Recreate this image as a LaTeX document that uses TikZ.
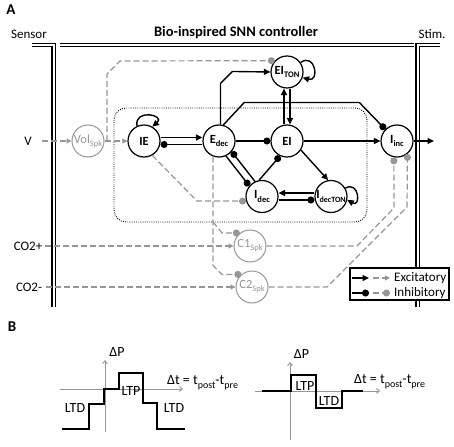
\documentclass[tikz,border=0pt]{standalone}
\usepackage{fontspec}
\setmainfont{Carlito}
\usetikzlibrary{arrows.meta}

\definecolor{spkgray}{RGB}{150,150,150}
\newcommand\nsub[2][8.5]{\raisebox{-0.25em}{\fontsize{#1}{#1}\selectfont #2}}

\tikzset{
  neuron/.style={circle,draw,fill=white,line width=1.2pt,minimum size=32pt,inner sep=0pt,font=\fontsize{12.5}{12.5}\selectfont\bfseries},
  spk/.style={circle,draw=spkgray,fill=white,text=spkgray,line width=1pt,minimum size=32pt,inner sep=0pt,font=\fontsize{12.5}{12.5}\selectfont},
  exc/.style={line width=1.4pt,-{Triangle[length=6.5pt,width=6pt]}},
  inh/.style={line width=1.4pt,-{Circle[length=7pt]}},
  gexc/.style={spkgray,line width=1.2pt,dash pattern=on 6pt off 3pt,-{Triangle[length=5pt,width=5pt]}},
  ginh/.style={spkgray,line width=1.2pt,dash pattern=on 6pt off 3pt,-{Circle[length=7pt]}},
  rail/.style={double,double distance=2pt,line width=1.1pt},
  lbl/.style={font=\fontsize{13}{15}\selectfont,inner sep=1pt},
  plbl/.style={font=\fontsize{14}{16}\selectfont,inner sep=1pt},
  axis/.style={spkgray,line width=0.9pt,-{Straight Barb[length=3pt,width=5pt]}},
  curve/.style={line width=1.8pt},
}

\begin{document}
\begin{tikzpicture}[x=1pt,y=1pt]
\useasboundingbox (0,0) rectangle (454,-446);

\node[font=\fontsize{15}{15}\selectfont\bfseries] (A) at (11,-10) {A};
\node[font=\fontsize{15}{15}\selectfont\bfseries] (B) at (12,-327) {B};
\node[font=\fontsize{14.5}{16}\selectfont\bfseries] (title) at (236,-33) {Bio-inspired SNN controller};
\node[lbl] (sensor) at (29,-34) {Sensor};
\node[lbl] (stim) at (432,-34) {Stim.};

\draw[rail] (32,-45) -- (53.5,-45) -- (53.5,-307);
\draw[rail] (60,-45) -- (414,-45);
\draw[rail] (440,-45) -- (417.5,-45) -- (417.5,-307);

\draw[line width=0.9pt,dash pattern=on 0.9pt off 1.3pt,rounded corners=12pt] (114,-108) rectangle (367,-222);

\node[lbl] (V) at (28,-141) {V};
\node[lbl] (co2p) at (28,-246) {CO2+};
\node[lbl] (co2m) at (29,-287) {CO2-};

\node[spk] (Vol) at (88,-141) {Vol\nsub{Spk}};
\node[spk] (C1) at (250,-246) {C1\nsub{Spk}};
\node[spk] (C2) at (252,-287) {C2\nsub{Spk}};

\node[neuron] (IE) at (144,-141) {IE};
\node[neuron] (Edec) at (219,-141) {E\nsub{dec}};
\node[neuron] (EI) at (287,-141) {EI};
\node[neuron] (EIton) at (287,-72) {EI\nsub{TON}};
\node[neuron] (Iinc) at (397,-141) {I\nsub{inc}};
\node[neuron] (Idec) at (262,-196.5) {I\nsub{dec}};
\node[neuron] (IdecTON) at (331,-196.5) {I\nsub[8]{decTON}};
\coordinate (out) at (434,-141);

\draw[gexc] ([xshift=9pt]V.east) -- (Vol);
\draw[gexc] (Vol) -- (IE);
\draw[ginh] ([xshift=2.5pt]Vol.east) -- ++(0,67) -- ++(13,13) -- (EIton.137);
\draw[ginh] (IE.-60) -- (197,-201) -- (Idec.196);
\draw[ginh] (Edec.249) -- ++(0,-109) -- ++(9,-9) -- (C2.130);
\draw[ginh] (Edec.249 |- 0,-222) -- ++(9,-11) -- (C1.128);
\draw[gexc] ([xshift=2pt]co2p.east) -- (C1);
\draw[gexc] ([xshift=3pt]co2m.east) -- (C2);
\draw[ginh] (C1) -- (357,-246) -- (394,-208) -- (Iinc.259);
\draw[ginh] (C2) -- (327,-287) -- (407,-207) -- (Iinc.-51);

\draw[exc] (IE.115) to[out=100,in=40,distance=18pt] (IE.60);
\draw[exc] ([yshift=3.5pt]IE.east) -- ([yshift=3.5pt]Edec.west);
\draw[inh] ([yshift=-3.5pt]Edec.west) -- ([yshift=-3.5pt]IE.east);
\draw[inh] (Edec) -- (EI);
\draw[inh] (Idec.115) -- (Edec.-40);
\draw[inh] (Edec.-65) -- (Idec.140);
\draw[inh] (Idec.100) -- (EI.245);
\draw[exc] (EI.-33) -- (IdecTON.100);
\draw[exc] ([yshift=3.5pt]IdecTON.west) -- ([yshift=3.5pt]Idec.east);
\draw[inh] ([yshift=-3.5pt]Idec.east) -- ([yshift=-3.5pt]IdecTON.west);
\draw[exc] (IdecTON.30) to[out=30,in=-30,distance=16pt] (IdecTON.-12);
\draw[exc] (EIton.35) to[out=35,in=-15,distance=18pt] (EIton.-20);
\draw[exc] ([xshift=-3pt]EI.north) -- ([xshift=-3pt]EIton.south);
\draw[exc] ([xshift=3pt]EIton.south) -- ([xshift=3pt]EI.north);
\draw[exc] (Edec.85) -- ++(0,41) -- ++(12,12) -- (EIton.west);
\draw[inh] (Edec.75) -- ++(21,22.5) -- ++(115,0) -- (Iinc.135);
\draw[exc] (EI) -- (Iinc);
\draw[exc] (Iinc) -- (out);

\draw[line width=1.1pt,fill=white] (350,-268) rectangle (449,-300);
\node[lbl,anchor=west] (lexc) at (393,-278) {Excitatory};
\node[lbl,anchor=west] (linh) at (393,-293) {Inhibitory};
\draw[exc] ([xshift=-41pt]lexc.west) -- ([xshift=-24pt]lexc.west);
\draw[gexc] ([xshift=-20pt]lexc.west) -- ([xshift=-3pt]lexc.west);
\draw[inh] ([xshift=-41pt]linh.west) -- ([xshift=-24pt]linh.west);
\draw[ginh] ([xshift=-20pt]linh.west) -- ([xshift=-3pt]linh.west);

\draw[axis] (60,-389) -- (183,-389);
\draw[axis] (105,-432) -- (105,-360);
\draw[curve] (62,-429) -- (89,-429) -- (89,-404) -- (104,-404) -- (104,-389) -- (119,-389) -- (119,-373) -- (143,-373) -- (143,-403) -- (157,-403) -- (157,-429) -- (185,-429);
\node[plbl] (dpl) at (117,-352) {ΔP};
\node[plbl,anchor=west] (dtl) at (166,-383) {Δt = t\nsub[10]{post}-t\nsub[10]{pre}};
\node[plbl] (ltdl) at (75,-408) {LTD};
\node[plbl] (ltpl) at (131,-391) {LTP};
\node[plbl] (ltdr) at (174,-408) {LTD};

\draw[axis] (255,-391) -- (380,-391);
\draw[axis] (290,-440) -- (290,-362);
\draw[curve] (262,-391) -- (291,-391) -- (291,-375) -- (316,-375) -- (316,-408) -- (342,-408) -- (342,-391) -- (363,-391);
\node[plbl] (dpr) at (301.5,-354) {ΔP};
\node[plbl,anchor=west] (dtr) at (353,-382) {Δt = t\nsub[10]{post}-t\nsub[10]{pre}};
\node[plbl] (ltpr) at (305,-386) {LTP};
\node[plbl] (ltdr2) at (329,-401) {LTD};

\end{tikzpicture}
\end{document}
